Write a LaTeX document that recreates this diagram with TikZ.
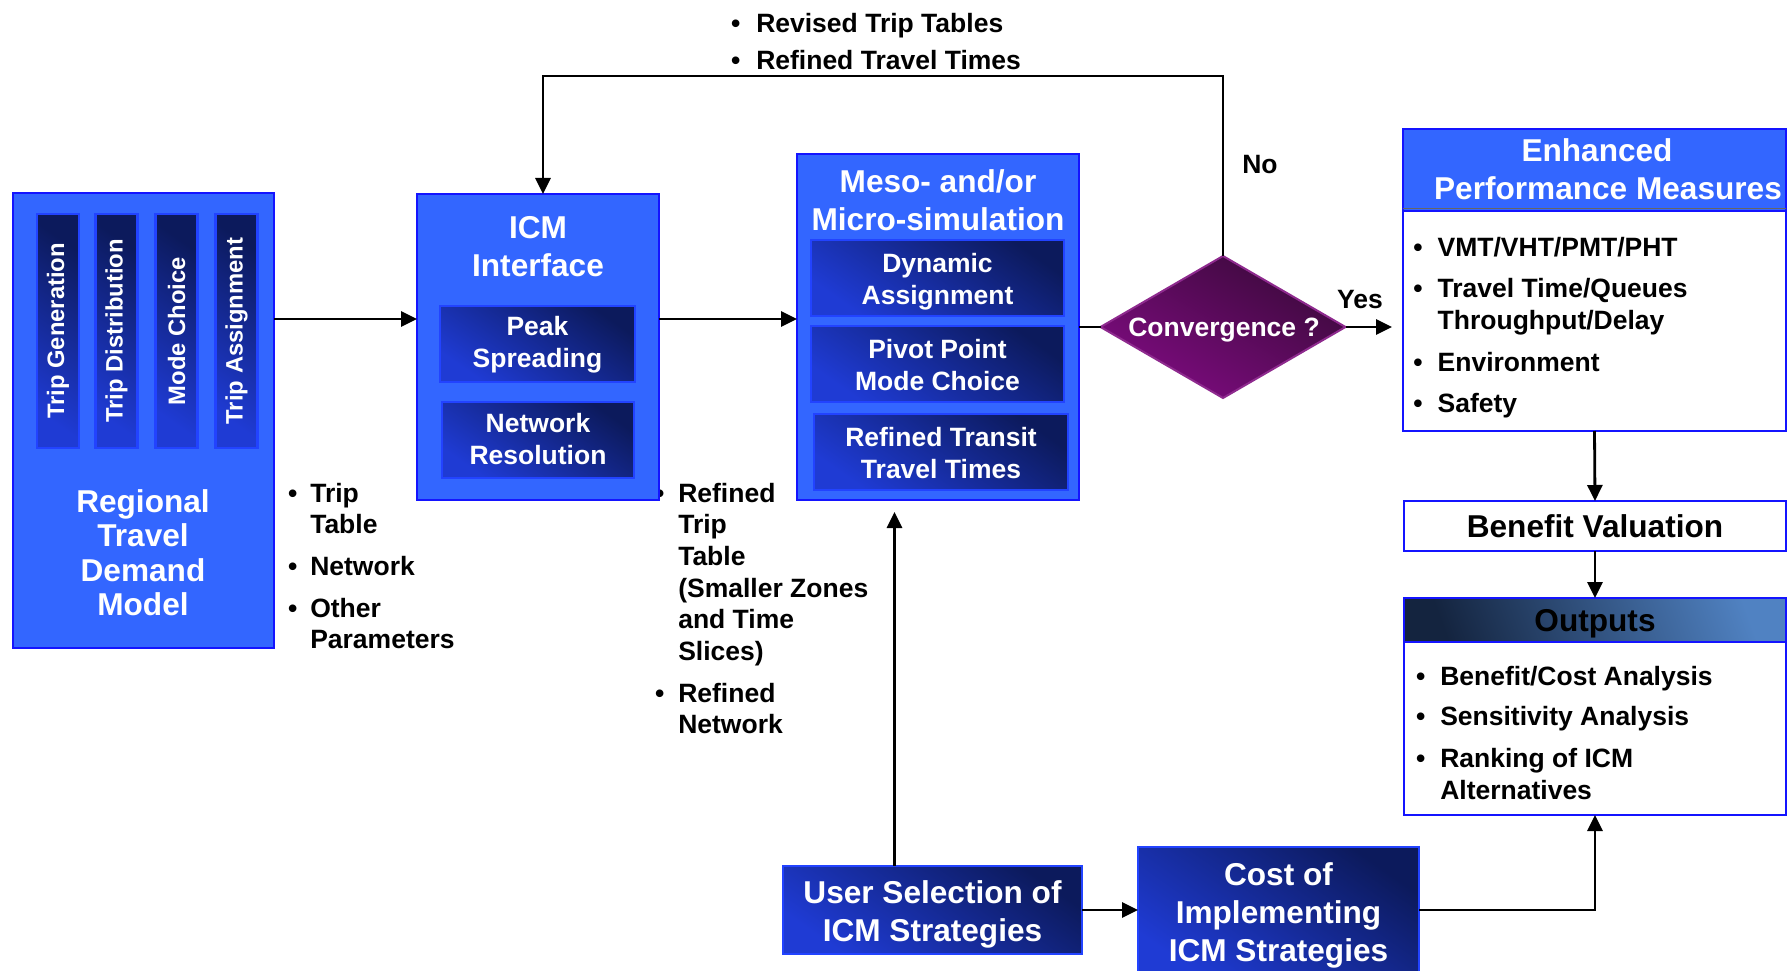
\documentclass[tikz,border=0pt]{standalone}
\usepackage{fontspec}
\setmainfont{Liberation Sans}
\usepackage{graphicx}
\usetikzlibrary{arrows.meta}

\definecolor{panelblue}{HTML}{3366FF}
\definecolor{edgeblue}{HTML}{1414FF}
\definecolor{navy}{HTML}{0C1A5C}
\definecolor{royal}{HTML}{1F3BD4}
\definecolor{moduleedge}{HTML}{2243FF}
\definecolor{plumdark}{HTML}{3C093C}
\definecolor{plumlight}{HTML}{7E0C80}
\definecolor{plumedge}{HTML}{8E2A8E}
\definecolor{steeldark}{HTML}{14243F}
\definecolor{steellight}{HTML}{5082C2}

\begin{document}
\begin{tikzpicture}[x=1pt, y=-1pt,
  every node/.style={inner sep=0pt, outer sep=0pt},
  fTitle/.style={font=\fontsize{31.6}{38}\selectfont\bfseries},
  fBody/.style={font=\fontsize{26.5}{31.7}\selectfont\bfseries},
  fBar/.style={font=\fontsize{23.8}{28}\selectfont\bfseries},
  panel/.style={draw=edgeblue, fill=panelblue, line width=2.8pt},
  module/.style={draw=moduleedge, line width=2.8pt, top color=navy, bottom color=royal, shading angle=-35, text=white, align=center},
  caption/.style={text=white, align=center},
  sheet/.style={draw=edgeblue, fill=white, line width=2.8pt},
  conn/.style={line width=2.8pt},
  arr/.style={conn, -{Triangle[length=16pt,width=15pt]}},
]
\useasboundingbox (0,0) rectangle (1789,971);

% reference rows and columns for the connectors
\coordinate (flowY) at (0,319);
\coordinate (loopTop) at (0,76);
\coordinate (loopX) at (543,0);
\coordinate (selX) at (894.5,0);

% ---------- Regional travel demand model ----------
\node[panel, minimum width=261, minimum height=455] (rtdm) at (143.5,420.5) {};
\node[module, fBar, minimum width=42, minimum height=234] (tgen) at (58,331) {\rotatebox{90}{Trip Generation}};
\node[module, fBar, minimum width=42, minimum height=234] (tdist) at (116.5,331) {\rotatebox{90}{Trip Distribution}};
\node[module, fBar, minimum width=42, minimum height=234] (mchoice) at (176.5,331) {\rotatebox{90}{Mode Choice}};
\node[module, fBar, minimum width=42, minimum height=234] (tassign) at (236.5,331) {\rotatebox{90}{Trip Assignment}};
\node[caption, font=\fontsize{31.6}{34.2}\selectfont\bfseries] (rtdmT) at (143,552.7) {Regional\\Travel\\Demand\\Model};

% ---------- data passed between the stages ----------
\node[fBody, anchor=base west] (inList) at (288,502) {\begin{tabular}[t]{@{}l@{\hspace{13pt}}l@{}}
\textbullet & Trip\\ & Table\\[10pt]
\textbullet & Network\\[10pt]
\textbullet & Other\\ & Parameters
\end{tabular}};
\node[fBody, anchor=base west] (midList) at (655,502) {\begin{tabular}[t]{@{}l@{\hspace{14pt}}l@{}}
\textbullet & Refined\\ & Trip\\ & Table\\ & (Smaller Zones\\ & and Time\\ & Slices)\\[10pt]
\textbullet & Refined\\ & Network
\end{tabular}};
\node[fBody, anchor=base west] (loopList) at (731,32.5) {\begin{tabular}[t]{@{}l@{\hspace{16pt}}l@{}}
\textbullet & Revised Trip Tables\\[5pt]
\textbullet & Refined Travel Times
\end{tabular}};

% ---------- ICM interface ----------
\node[panel, minimum width=242, minimum height=306] (icm) at (538,347) {};
\node[caption, fTitle] (icmT) at (538,247) {ICM\\Interface};
\node[module, minimum width=195, minimum height=76] (peak) at (537.5,344) {};
\node[caption, fBody] (peakT) at (537.5,345) {Peak\\Spreading};
\node[module, minimum width=192, minimum height=76] (netres) at (538,440) {};
\node[caption, fBody] (netresT) at (538,439) {Network\\Resolution};

% ---------- simulation ----------
\node[panel, minimum width=282, minimum height=346] (meso) at (938,327) {};
\node[caption, font=\fontsize{31.6}{37.6}\selectfont\bfseries] (mesoT) at (938,200.5) {Meso- and/or\\Micro-simulation};
\node[module, minimum width=253, minimum height=76] (dyn) at (937.5,278) {};
\node[caption, fBody] (dynT) at (937.5,281.4) {Dynamic\\Assignment};
\node[module, minimum width=253, minimum height=76] (pivot) at (937.5,364) {};
\node[caption, fBody] (pivotT) at (937.5,365) {Pivot Point\\Mode Choice};
\node[module, minimum width=254, minimum height=76] (transit) at (941,452) {};
\node[caption, fBody] (transitT) at (941,453) {Refined Transit\\Travel Times};

% ---------- convergence test ----------
\node[minimum width=245, minimum height=142] (conv) at (1223,327) {};
\shade[top color=plumdark, bottom color=plumlight, shading angle=-30, draw=plumedge, line width=2pt]
  (conv.north) -- (conv.east) -- (conv.south) -- (conv.west) -- cycle;
\node[fBody, text=white, anchor=base] (convT) at (1224,336.5) {Convergence ?};
\node[fBody] (noT) at (1260,165) {No};
\node[fBody] (yesT) at (1360,299.5) {Yes};

% ---------- performance measures ----------
\node[sheet, minimum width=383, minimum height=220] (epmL) at (1594.5,321) {};
\node[panel, minimum width=383, minimum height=82] (epmH) at (1594.5,170) {};
\draw[black!60, line width=1.6pt] ([yshift=2.6pt]epmH.south west) -- ([yshift=2.6pt]epmH.south east);
\node[fTitle, text=white, anchor=base] (epmT1) at (1597,161) {Enhanced};
\node[fTitle, text=white, anchor=base] (epmT2) at (1608,199) {Performance Measures};
\node[fBody, anchor=base west] (epmList) at (1413.4,256) {\begin{tabular}[t]{@{}l@{\hspace{15pt}}l@{}}
\textbullet & VMT/VHT/PMT/PHT\\[10pt]
\textbullet & Travel Time/Queues\\ & Throughput/Delay\\[10pt]
\textbullet & Environment\\[10pt]
\textbullet & Safety
\end{tabular}};

\node[sheet, fTitle, minimum width=382, minimum height=50] (benefit) at (1595,526) {Benefit Valuation};

\node[sheet, minimum width=382, minimum height=173] (outL) at (1595,728.5) {};
\node[draw=edgeblue, line width=2.8pt, top color=steellight, bottom color=steeldark, shading angle=-70, minimum width=382, minimum height=44] (outH) at (1595,620) {};
\node[fTitle, anchor=base] (outT) at (1595,631) {Outputs};
\node[fBody, anchor=base west] (outList) at (1416,685) {\begin{tabular}[t]{@{}l@{\hspace{15pt}}l@{}}
\textbullet & Benefit/Cost Analysis\\[9pt]
\textbullet & Sensitivity Analysis\\[10pt]
\textbullet & Ranking of ICM\\ & Alternatives
\end{tabular}};

% ---------- strategies ----------
\node[module, minimum width=299, minimum height=88] (user) at (932.5,910) {};
\node[caption, fTitle] (userT) at (932.5,914.5) {User Selection of\\ICM Strategies};
\node[module, minimum width=281, minimum height=132] (cost) at (1278.5,913) {};
\node[caption, fTitle] (costT) at (1278.5,915) {Cost of\\Implementing\\ICM Strategies};

% ---------- connectors ----------
\draw[arr] (rtdm.east |- flowY) -- (icm.west |- flowY);
\draw[arr] (icm.east |- flowY) -- (meso.west |- flowY);
\draw[conn] (meso.east) -- (conv.west);
\draw[arr, shorten >=11pt] (conv.east) -- (conv.east -| epmL.west);
\draw[arr] (conv.north) -- (conv.north |- loopTop) -- (loopX |- loopTop) -- (loopX |- icm.north);
\draw[arr] (epmL.south) -- (benefit.north);
\draw[arr] (benefit.south) -- (outH.north);
\draw[arr] (user.east) -- (user.east -| cost.west);
\draw[arr] (cost.east |- user.east) -- (user.east -| outL.south) -- (outL.south);
\draw[arr, shorten >=12pt] (selX |- user.north) -- (selX |- meso.south);
\end{tikzpicture}
\end{document}
